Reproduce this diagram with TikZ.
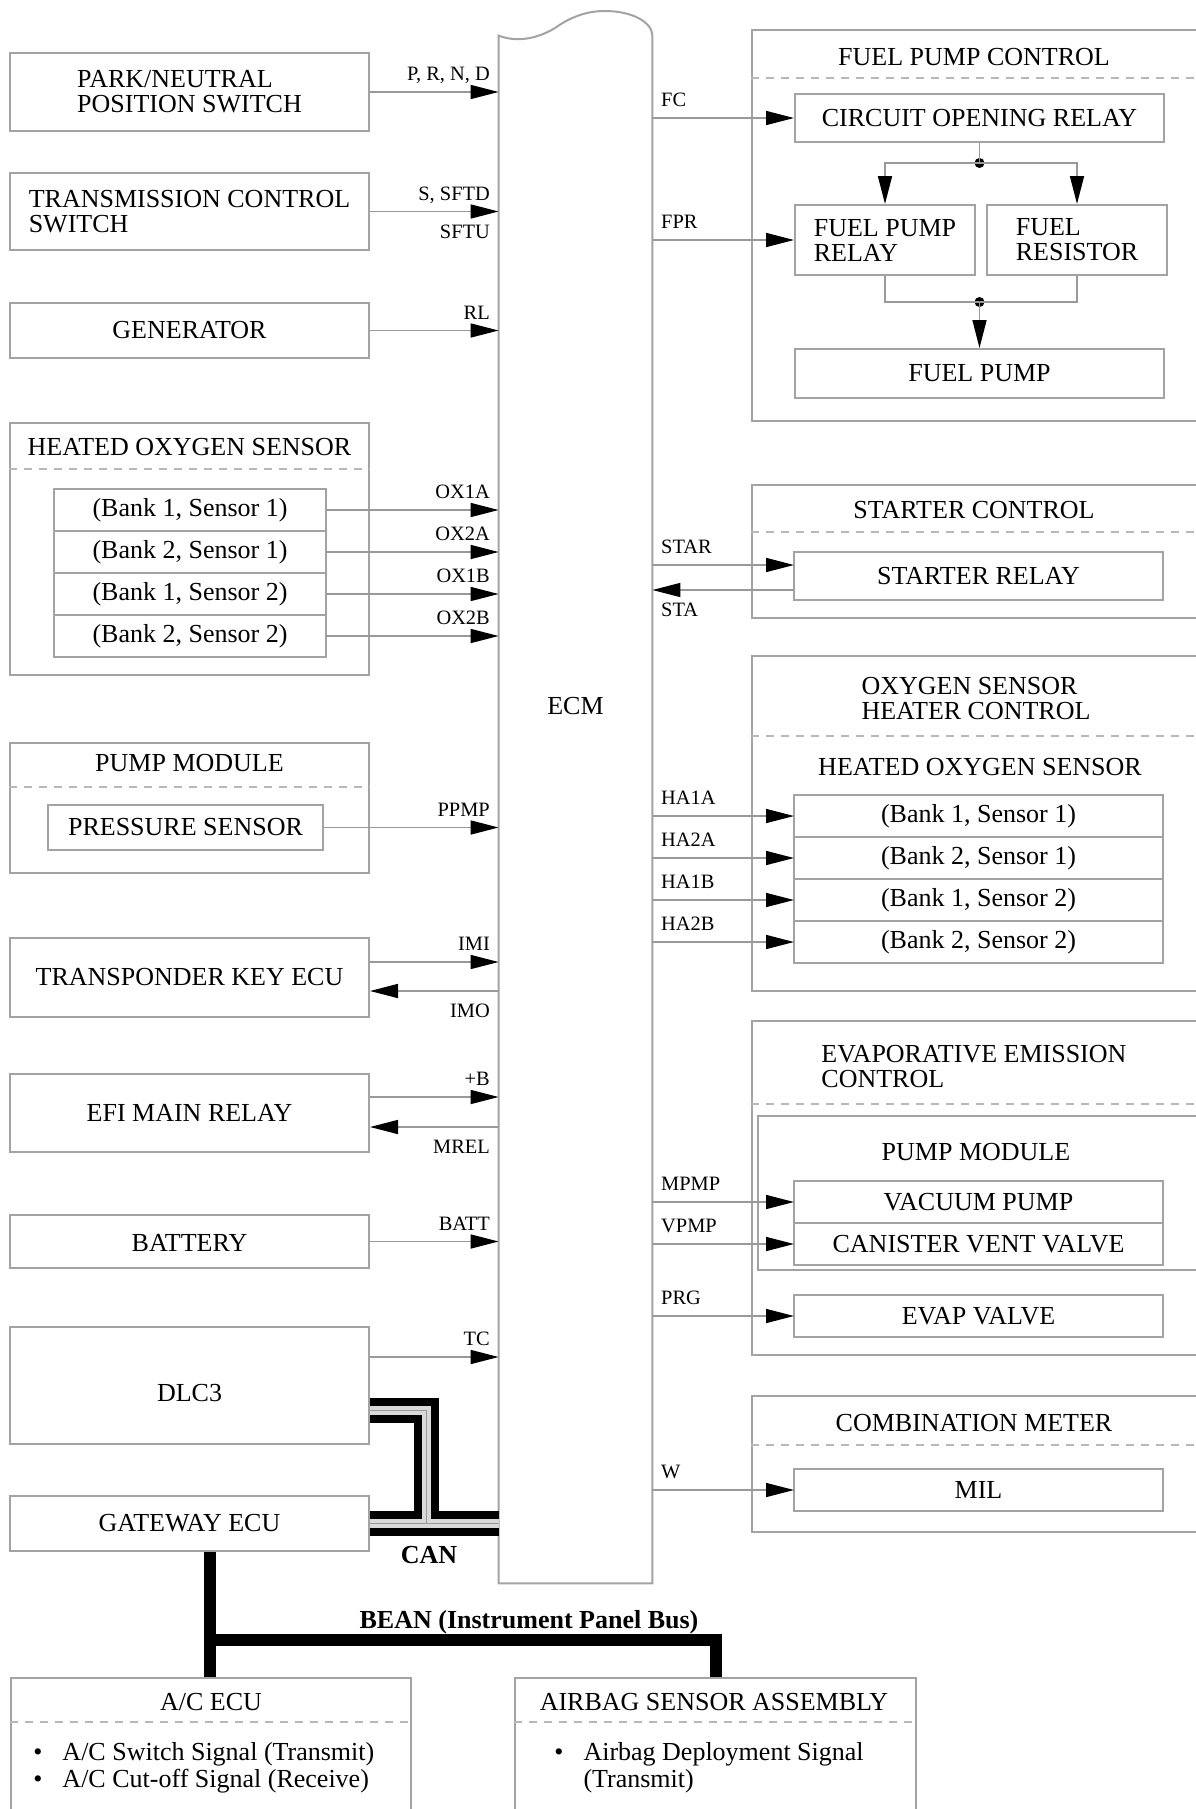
\documentclass[tikz,border=0pt]{standalone}
\usepackage{fontspec}
\setmainfont{Liberation Serif}
\usetikzlibrary{
arrows.meta,
positioning
}
\definecolor{ECMLine}{HTML}{A3A3A3}
\definecolor{ECMWire}{HTML}{999999}
\definecolor{ECMDash}{HTML}{B8B8B8}
\definecolor{ECMBus}{HTML}{D9D9D9}
\newcommand{\ecmboxfont}{\fontsize{13}{12.5}\selectfont}
\newcommand{\ecmlistfont}{\fontsize{13}{13.5}\selectfont}
\newcommand{\ecmpinfont}{\fontsize{10.2}{11}\selectfont}
\tikzset{
unitbox/.style={draw=ECMLine, line width=1pt, fill=white, inner sep=0pt, align=center,
  font=\ecmboxfont},
leftbox/.style={unitbox, minimum width=179.5pt},
rowbox/.style={unitbox, outer sep=0pt, minimum width=184.5pt, minimum height=21pt},
oxrow/.style={unitbox, outer sep=0pt, minimum width=136pt, minimum height=21pt},
groupbox/.style={draw=ECMLine, line width=1pt, inner sep=0pt},
grouptitle/.style={font=\ecmboxfont, inner sep=0pt, align=center},
sepline/.style={draw=ECMDash, line width=0.8pt, dash pattern=on 4pt off 3.5pt},
wire/.style={draw=ECMWire, line width=0.8pt},
sigline/.style={wire, -{Triangle[length=14pt, width=7pt, color=black]}},
junction/.style={circle, fill=black, inner sep=0pt, minimum size=5pt},
pinlbl/.style={font=\ecmpinfont, inner sep=0pt},
pinup/.style={pinlbl, anchor=base east, xshift=-4pt, yshift=5.6pt},
pindown/.style={pinlbl, anchor=base east, xshift=-4pt, yshift=-13.4pt},
rpinup/.style={pinlbl, anchor=base west, xshift=4pt, yshift=5.6pt},
rpindown/.style={pinlbl, anchor=base west, xshift=4pt, yshift=-13.4pt},
beanbus/.style={draw=black, line width=6pt, line join=miter},
buslbl/.style={font=\ecmboxfont\bfseries, inner sep=0pt}
}

\begin{document}
\begin{tikzpicture}[x=0.5pt, y=-0.5pt]
\useasboundingbox (0,0) rectangle (1195,1809);
\fill[white] (0,0) rectangle (1195,1809);
\node[minimum width=76.5pt, minimum height=773.5pt, inner sep=0pt] (ecm) at (575.5,809.5) {};
\draw[draw=ECMLine, line width=1pt, fill=white] (ecm.south west) -- (ecm.north west)
  .. controls (515,42) and (535,40) .. (555,28) .. controls (572,16) and (588,11) .. (605,11)
  .. controls (632,11) and (652,22) .. (ecm.north east) -- (ecm.south east) -- cycle;
\node[grouptitle] (ecmname) at (575.5,706) {ECM};

\node[leftbox, minimum height=39pt, align=left] (png) at (189.5,92) {PARK/NEUTRAL\\POSITION SWITCH};
\node[leftbox, minimum height=38.5pt, align=left] (tcs) at (189.5,211.5) {TRANSMISSION CONTROL\\SWITCH};
\node[leftbox, minimum height=27.5pt] (gen) at (189.5,330.5) {GENERATOR};
\node[groupbox, minimum width=179.5pt, minimum height=126pt] (hos) at (189.5,549) {};
\node[grouptitle] (hostitle) at (hos.north |- 0,447) {HEATED OXYGEN SENSOR};
\draw[sepline] (hos.west |- 0,469) -- (hos.east |- 0,469);
\node[oxrow] (ox1a) at (190,510) {(Bank 1, Sensor 1)};
\node[oxrow, below=0pt of ox1a] (ox2a) {(Bank 2, Sensor 1)};
\node[oxrow, below=0pt of ox2a] (ox1b) {(Bank 1, Sensor 2)};
\node[oxrow, below=0pt of ox1b] (ox2b) {(Bank 2, Sensor 2)};
\node[groupbox, minimum width=179.5pt, minimum height=65pt] (pmod) at (189.5,808) {};
\node[grouptitle] (pmodtitle) at (pmod.north |- 0,763) {PUMP MODULE};
\draw[sepline] (pmod.west |- 0,787) -- (pmod.east |- 0,787);
\node[unitbox, minimum width=137.5pt, minimum height=22.5pt] (prs) at (185.5,827.5) {PRESSURE SENSOR};
\node[leftbox, minimum height=39.5pt] (tke) at (189.5,977.5) {TRANSPONDER KEY ECU};
\node[leftbox, minimum height=39pt] (efi) at (189.5,1113) {EFI MAIN RELAY};
\node[leftbox, minimum height=26.5pt] (bat) at (189.5,1241.5) {\rule{0pt}{10.5pt}BATTERY};
\node[leftbox, minimum height=58.5pt] (dlc) at (189.5,1385.5) {\rule{0pt}{16.5pt}DLC3};
\node[leftbox, minimum height=27.5pt] (gw) at (189.5,1523.5) {GATEWAY ECU};

\node[groupbox, minimum width=226.5pt, minimum height=195.5pt] (fpc) at (978.5,225.5) {};
\node[grouptitle] (fpctitle) at (974,57) {FUEL PUMP CONTROL};
\draw[sepline] (fpc.west |- 0,78) -- (fpc.east |- 0,78);
\node[unitbox, minimum width=184.5pt, minimum height=24pt] (cor) at (979.5,118) {CIRCUIT OPENING RELAY};
\node[unitbox, minimum width=90pt, minimum height=35pt, align=left] (fpr) at (885,240) {FUEL PUMP\\RELAY};
\node[unitbox, minimum width=90pt, minimum height=35pt, align=left] (frs) at (1077,240) {FUEL\\RESISTOR};
\node[unitbox, minimum width=184.5pt, minimum height=24.5pt] (fp) at (979.5,373.5) {FUEL PUMP};
\node[junction] (jcor) at (979.5,163) {};
\node[junction] (jfp) at (979.5,302) {};
\draw[wire] (cor.south) -- (jcor.center);
\draw[sigline] (jcor.center) -| (fpr.north);
\draw[sigline] (jcor.center) -| (frs.north);
\draw[wire] (fpr.south) |- (jfp.center);
\draw[wire] (frs.south) |- (jfp.center);
\draw[sigline] (jfp.center) -- (fp.north);

\node[groupbox, minimum width=226.5pt, minimum height=66.5pt] (stc) at (978.5,551.5) {};
\node[grouptitle] (stctitle) at (974,510) {STARTER CONTROL};
\draw[sepline] (stc.west |- 0,532) -- (stc.east |- 0,532);
\node[rowbox, minimum height=24pt] (str) at (978.5,576) {STARTER RELAY};

\node[groupbox, minimum width=226.5pt, minimum height=167.5pt] (oshc) at (978.5,823.5) {};
\node[grouptitle, align=left] (oshctitle) at (976,699) {OXYGEN SENSOR\\HEATER CONTROL};
\draw[sepline] (oshc.west |- 0,736) -- (oshc.east |- 0,736);
\node[grouptitle] (hossub) at (980,767) {HEATED OXYGEN SENSOR};
\node[rowbox] (ha1a) at (978.5,816) {(Bank 1, Sensor 1)};
\node[rowbox, below=0pt of ha1a] (ha2a) {(Bank 2, Sensor 1)};
\node[rowbox, below=0pt of ha2a] (ha1b) {(Bank 1, Sensor 2)};
\node[rowbox, below=0pt of ha1b] (ha2b) {(Bank 2, Sensor 2)};

\node[groupbox, minimum width=226.5pt, minimum height=167pt] (evap) at (978.5,1188) {};
\node[grouptitle, align=left, anchor=west] (evaptitle) at (821,1066.5) {EVAPORATIVE EMISSION\\CONTROL};
\draw[sepline] (evap.west |- 0,1104) -- (evap.east |- 0,1104);
\node[groupbox, minimum width=223.5pt, minimum height=77pt] (evpm) at (981.5,1193) {};
\node[grouptitle] (evpmtitle) at (976,1152) {PUMP MODULE};
\node[rowbox] (vac) at (978.5,1202) {VACUUM PUMP};
\node[rowbox, below=0pt of vac] (cvv) {CANISTER VENT VALVE};
\node[rowbox] (evv) at (978.5,1316) {EVAP VALVE};

\node[groupbox, minimum width=226.5pt, minimum height=68pt] (cmb) at (978.5,1464) {};
\node[grouptitle] (cmbtitle) at (974,1423) {COMBINATION METER};
\draw[sepline] (cmb.west |- 0,1445) -- (cmb.east |- 0,1445);
\node[rowbox] (mil) at (978.5,1490) {MIL};

\node[groupbox, minimum width=200pt, minimum height=68.5pt] (acecu) at (211,1746.5) {};
\node[grouptitle] (acecutitle) at (211,1702) {A/C ECU};
\draw[sepline] (acecu.west |- 0,1722) -- (acecu.east |- 0,1722);
\node[grouptitle, font=\ecmlistfont, anchor=west] (aclist) at (33,1768.5)
  {\begin{tabular}{@{}l@{\hspace{10pt}}l@{}}\textbullet & A/C Switch Signal (Transmit)\\
   \textbullet & A/C Cut-off Signal (Receive)\end{tabular}};
\node[groupbox, minimum width=200.5pt, minimum height=68.5pt] (airbag) at (715.5,1746.5) {};
\node[grouptitle] (airbagtitle) at (714,1702) {AIRBAG SENSOR ASSEMBLY};
\draw[sepline] (airbag.west |- 0,1722) -- (airbag.east |- 0,1722);
\node[grouptitle, font=\ecmlistfont, anchor=west] (airbaglist) at (554,1768.5)
  {\begin{tabular}{@{}l@{\hspace{10pt}}l@{}}\textbullet & Airbag Deployment Signal\\
   & (Transmit)\end{tabular}};

\draw[sigline] (png.east) -- (png.east -| ecm.west) node[pinup] {P, R, N, D};
\draw[sigline] (tcs.east) -- (tcs.east -| ecm.west) node[pinup] {S, SFTD} node[pindown] {SFTU};
\draw[sigline] (gen.east) -- (gen.east -| ecm.west) node[pinup] {RL};
\foreach \row/\pin in {ox1a/OX1A, ox2a/OX2A, ox1b/OX1B, ox2b/OX2B}
\draw[sigline] (\row.east) -- (\row.east -| ecm.west) node[pinup] {\pin};
\draw[sigline] (prs.east) -- (prs.east -| ecm.west) node[pinup] {PPMP};
\draw[sigline] ([yshift=7.75pt]tke.east) -- ([yshift=7.75pt]tke.east -| ecm.west) node[pinup] {IMI};
\draw[sigline] ([yshift=-6.75pt]tke.east -| ecm.west) node[pindown] {IMO} -- ([yshift=-6.75pt]tke.east);
\draw[sigline] ([yshift=8pt]efi.east) -- ([yshift=8pt]efi.east -| ecm.west) node[pinup] {+B};
\draw[sigline] ([yshift=-7pt]efi.east -| ecm.west) node[pindown] {MREL} -- ([yshift=-7pt]efi.east);
\draw[sigline] (bat.east) -- (bat.east -| ecm.west) node[pinup] {BATT};
\draw[sigline] ([yshift=14.25pt]dlc.east) -- ([yshift=14.25pt]dlc.east -| ecm.west) node[pinup] {TC};

\draw[sigline] (cor.west -| ecm.east) node[rpinup] {FC} -- (cor.west);
\draw[sigline] (fpr.west -| ecm.east) node[rpinup] {FPR} -- (fpr.west);
\draw[sigline] ([yshift=5.5pt]str.west -| ecm.east) node[rpinup] {STAR} -- ([yshift=5.5pt]str.west);
\draw[sigline] ([yshift=-7pt]str.west) -- ([yshift=-7pt]str.west -| ecm.east) node[rpindown] {STA};
\foreach \row/\pin in {ha1a/HA1A, ha2a/HA2A, ha1b/HA1B, ha2b/HA2B, vac/MPMP, cvv/VPMP, evv/PRG, mil/W}
\draw[sigline] (\row.west -| ecm.east) node[rpinup] {\pin} -- (\row.west);

\coordinate (canT) at (426.5,1523.5);
\foreach \w/\c in {12.5pt/black, 4.5pt/ECMBus, 0.6pt/ECMWire} {
\draw[line width=\w, draw=\c, line join=miter] ([yshift=-12.5pt]dlc.east) -| (canT);
\draw[line width=\w, draw=\c] (gw.east) -- (gw.east -| ecm.west);
}
\node[buslbl] (canlbl) at (429,1555) {CAN};
\coordinate (beanT) at (210,1640);
\draw[beanbus] (gw.south -| beanT) -- (acecu.north -| beanT);
\draw[beanbus] (beanT) -| (airbag.north);
\node[buslbl] (beanlbl) at (529,1622) {BEAN (Instrument Panel Bus)};
\end{tikzpicture}
\end{document}
